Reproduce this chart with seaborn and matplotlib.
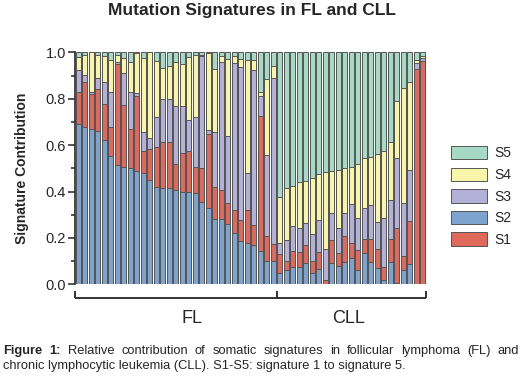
import numpy as np
import pandas as pd
import matplotlib
matplotlib.use('Agg')
import matplotlib.pyplot as plt
import matplotlib.transforms as mtransforms
from matplotlib.patches import Patch
from matplotlib.ticker import MultipleLocator
import seaborn as sns

# signature contribution per sample: 31 FL samples, then 23 CLL samples
s2 = [0.690, 0.680, 0.670, 0.660, 0.620, 0.553, 0.514, 0.507, 0.500, 0.488,
      0.478, 0.450, 0.420, 0.417, 0.417, 0.407, 0.400, 0.400, 0.392, 0.353,
      0.330, 0.283, 0.280, 0.262, 0.220, 0.187, 0.180, 0.170, 0.142, 0.100,
      0.100,
      0.048, 0.063, 0.076, 0.076, 0.090, 0.047, 0.066, 0.003, 0.090, 0.080,
      0.098, 0.112, 0.062, 0.134, 0.098, 0.069, 0.019, 0.095, 0.004, 0.062,
      0.086, 0.000, 0.000]
s1 = [0.140, 0.190, 0.150, 0.180, 0.156, 0.127, 0.436, 0.266, 0.170, 0.322,
      0.097, 0.133, 0.173, 0.198, 0.195, 0.113, 0.165, 0.175, 0.115, 0.147,
      0.317, 0.137, 0.125, 0.088, 0.100, 0.090, 0.140, 0.086, 0.585, 0.110,
      0.075,
      0.084, 0.036, 0.066, 0.064, 0.080, 0.053, 0.074, 0.015, 0.100, 0.054,
      0.112, 0.068, 0.086, 0.061, 0.097, 0.083, 0.057, 0.100, 0.240, 0.058,
      0.187, 0.930, 0.963]
s3 = [0.094, 0.030, 0.010, 0.050, 0.094, 0.150, 0.010, 0.137, 0.160, 0.016,
      0.080, 0.047, 0.127, 0.185, 0.188, 0.250, 0.205, 0.135, 0.213, 0.485,
      0.018, 0.237, 0.552, 0.290, 0.635, 0.658, 0.158, 0.668, 0.083, 0.346,
      0.713,
      0.048, 0.091, 0.108, 0.104, 0.095, 0.115, 0.137, 0.134, 0.116, 0.110,
      0.096, 0.165, 0.136, 0.133, 0.147, 0.118, 0.208, 0.169, 0.299, 0.230,
      0.220, 0.023, 0.011]
s4 = [0.056, 0.090, 0.170, 0.100, 0.115, 0.137, 0.030, 0.064, 0.130, 0.169,
      0.319, 0.370, 0.243, 0.134, 0.140, 0.190, 0.180, 0.270, 0.270, 0.005,
      0.331, 0.270, 0.025, 0.330, 0.027, 0.035, 0.489, 0.043, 0.020, 0.330,
      0.052,
      0.198, 0.224, 0.173, 0.196, 0.180, 0.242, 0.197, 0.331, 0.182, 0.249,
      0.194, 0.162, 0.236, 0.215, 0.208, 0.290, 0.291, 0.248, 0.247, 0.495,
      0.381, 0.014, 0.008]
s5 = [0.020, 0.010, 0.000, 0.010, 0.015, 0.033, 0.010, 0.026, 0.040, 0.005,
      0.026, 0.000, 0.037, 0.066, 0.060, 0.040, 0.050, 0.020, 0.010, 0.010,
      0.004, 0.073, 0.018, 0.030, 0.018, 0.030, 0.033, 0.033, 0.170, 0.114,
      0.060,
      0.622, 0.586, 0.577, 0.560, 0.555, 0.543, 0.526, 0.517, 0.512, 0.507,
      0.500, 0.493, 0.480, 0.457, 0.450, 0.440, 0.425, 0.388, 0.210, 0.155,
      0.126, 0.033, 0.018]

groups = ['FL', 'CLL']
group_sizes = [31, 23]

colors = {'S1': '#df6a5c', 'S2': '#7fa3cf', 'S3': '#b3b1d8',
          'S4': '#f8f4aa', 'S5': '#a6dac6'}
stack_order = ['S2', 'S1', 'S3', 'S4', 'S5']   # bottom -> top
legend_order = ['S5', 'S4', 'S3', 'S2', 'S1']

caption_1 = 'Relative contribution of somatic signatures in follicular lymphoma (FL) and'
caption_2 = 'chronic lymphocytic leukemia (CLL). S1-S5: signature 1 to signature 5.'

df = pd.DataFrame({'S1': s1, 'S2': s2, 'S3': s3, 'S4': s4, 'S5': s5})
df['sample'] = [f'{i + 1}' for i in range(len(df))]
cum = df[stack_order].cumsum(axis=1)
cum = cum.div(cum['S5'], axis=0)

sns.set_style('ticks')
plt.rcParams['font.family'] = ['Liberation Sans', 'DejaVu Sans']

fig = plt.figure(figsize=(5.2, 3.85), dpi=100)
fig.patch.set_facecolor('white')
ax = fig.add_axes([75 / 520, 100.7 / 385, 351 / 520, 232 / 385])

# layered bars: tallest cumulative first, so each lower layer covers it
for sig in reversed(stack_order):
    sns.barplot(x=df['sample'], y=cum[sig], order=list(df['sample']),
                color=colors[sig], saturation=1, width=0.78,
                edgecolor='#555555', linewidth=0.7, errorbar=None, ax=ax)

n = len(df)
ax.set_xlim(-0.5, n - 0.5)
ax.set_ylim(0, 1.0)
ax.set_xticks([])
ax.set_xlabel('')
ax.yaxis.set_major_locator(MultipleLocator(0.2))
ax.yaxis.set_minor_locator(MultipleLocator(0.1))
ax.yaxis.set_major_formatter(matplotlib.ticker.FormatStrFormatter('%.1f'))
ax.tick_params(axis='y', which='major', length=5, width=1.1, labelsize=10.5, pad=1.5)
ax.tick_params(axis='y', which='minor', length=3, width=1.1)
ax.set_ylabel('Signature Contribution', fontsize=10, fontweight='bold')
ax.yaxis.set_label_coords(-0.132, 0.5)
for side in ['top', 'right', 'bottom']:
    ax.spines[side].set_visible(False)
ax.spines['left'].set_linewidth(1.2)

# group bracket under the bars
trans = mtransforms.blended_transform_factory(ax.transData, ax.transAxes)
edges = np.concatenate([[0], np.cumsum(group_sizes)]) - 0.5
ax.plot([edges[0], edges[-1]], [-0.059, -0.059], color='#222222', lw=1.3,
        transform=trans, clip_on=False, solid_capstyle='butt')
for e in edges:
    ax.plot([e, e], [-0.059, -0.03], color='#222222', lw=1.3,
            transform=trans, clip_on=False, solid_capstyle='butt')
ax.text(0.333, -0.148, groups[0], transform=ax.transAxes, ha='center',
        va='center', fontsize=13)
ax.text(0.78, -0.148, groups[1], transform=ax.transAxes, ha='center',
        va='center', fontsize=13)

handles = [Patch(facecolor=colors[s], edgecolor='#555555', linewidth=0.7, label=s)
           for s in legend_order]
ax.legend(handles=handles, loc='upper left', bbox_to_anchor=(451 / 520, 1 - 146 / 385),
          bbox_transform=fig.transFigure, frameon=False, fontsize=10,
          handlelength=2.6, handleheight=1.1, labelspacing=0.52, handletextpad=0.5,
          borderaxespad=0, borderpad=0)

fig.text(252 / 520, 1 - 10 / 385, 'Mutation Signatures in FL and CLL',
         ha='center', va='center', fontsize=12.5, fontweight='bold')

# caption: first line justified to the full width, second line left aligned
cap_size = 9.3
words = [('Figure', 'bold'), ('1:', 'bold')] + [(w, 'normal') for w in caption_1.split()]
arts = [fig.text(0, 1 - 351 / 385, w, ha='left', va='center', fontsize=cap_size,
                 fontweight=wt) for w, wt in words]
renderer = fig.canvas.get_renderer()
widths = [a.get_window_extent(renderer).width for a in arts]
gap = (516 - sum(widths)) / (len(words) - 1)
x = 3
for a, w in zip(arts, widths):
    a.set_x(x / 520)
    x += w + gap
fig.text(3 / 520, 1 - 366 / 385, caption_2, ha='left', va='center', fontsize=cap_size)

fig.savefig('out.png', dpi=100, facecolor='white')
